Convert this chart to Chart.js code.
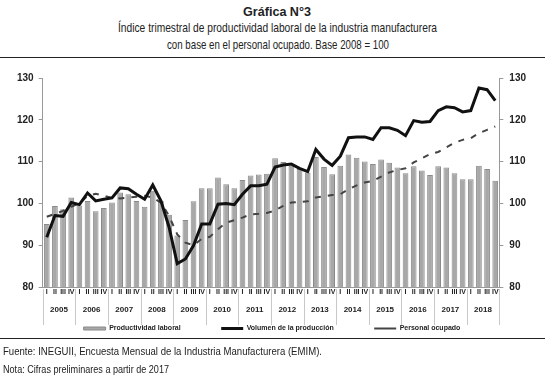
<!DOCTYPE html>
<html>
<head>
<meta charset="utf-8">
<script src="https://cdn.jsdelivr.net/npm/chart.js@4"></script>
<style>
  body { margin: 0; background: #fff; width: 555px; height: 379px; position: relative; overflow: hidden;
         font-family: 'Liberation Sans', sans-serif; color: #222; }
  .line { position: absolute; white-space: nowrap; transform-origin: 0 0; }
  .t { font-size: 13px; }
  .rule { position: absolute; left: 0; width: 545px; height: 0; border-top: 1.3px solid #222; }
  #wrap { position: absolute; top: 60px; left: 0; width: 555px; height: 282px; }
  .foot { font-size: 10.5px; }
</style>
</head>
<body>
<div class="line t" style="top:4px" data-x="243" data-w="68"><b>Gráfica N°3</b></div>
<div class="line t" style="top:20px" data-x="118" data-w="319">Índice trimestral de productividad laboral de la industria manufacturera</div>
<div class="line t" style="top:37px" data-x="167" data-w="222">con base en el personal ocupado. Base 2008 = 100</div>
<div class="rule" style="top:57px"></div>
<div id="wrap"><canvas id="chart"></canvas></div>
<div class="rule" style="top:338px"></div>
<div class="line foot" style="top:345px" data-x="3" data-w="319">Fuente: INEGUII, Encuesta Mensual de la Industria Manufacturera (EMIM).</div>
<div class="line foot" style="top:363px" data-x="3" data-w="166">Nota: Cifras preliminares a partir de 2017</div>
<script>
// Years and quarters on the x axis
const years = ['2005', '2006', '2007', '2008', '2009', '2010', '2011', '2012', '2013', '2014', '2015', '2016', '2017', '2018'];
const quarters = ['I', 'II', 'III', 'IV'];

// Productividad laboral (bars)
const productividad = [
    95.1, 99.4, 98.6, 101.4,
    99.5, 100.6, 98.1, 98.9,
    100.2, 102.6, 102.2, 100.6,
    99.2, 103.0, 100.6, 97.3,
    92.3, 96.0, 100.5, 103.6,
    103.6, 106.2, 104.6, 103.6,
    105.6, 106.7, 106.9, 107.1,
    110.8, 109.9, 109.0, 108.2,
    107.4, 111.1, 108.7, 107.0,
    109.0, 111.7, 110.9, 110.0,
    109.4, 110.5, 109.7, 108.6,
    107.2, 108.9, 107.9, 106.8,
    108.9, 108.6, 107.2, 105.8,
    105.8, 109.0, 108.2, 105.4
];

// Volumen de la producción (solid line)
const volumen = [
    91.9, 97.1, 96.9, 100.2,
    99.7, 102.5, 100.6, 101.0,
    101.3, 103.7, 103.5, 102.2,
    101.0, 104.4, 100.6, 94.3,
    85.6, 86.7, 89.9, 95.1,
    95.1, 99.8, 100.0, 99.7,
    102.2, 104.2, 104.2, 104.6,
    108.7, 109.2, 109.4, 108.4,
    107.6, 112.9, 110.6, 109.1,
    111.3, 115.7, 115.9, 115.9,
    115.3, 118.1, 118.1, 117.5,
    116.2, 119.8, 119.4, 119.6,
    122.2, 123.1, 122.9, 121.9,
    122.2, 127.6, 127.2, 124.6
];

// Personal ocupado (dashed line)
const personal = [
    96.8, 97.5, 98.2, 99.2,
    100.0, 101.8, 102.3, 101.8,
    101.3, 101.2, 101.4, 101.6,
    101.8, 101.4, 100.2, 97.0,
    92.6, 90.6, 90.0, 91.5,
    92.0, 93.8, 95.4, 96.0,
    96.6, 97.4, 97.5, 97.7,
    98.3, 99.4, 100.2, 100.3,
    100.5, 101.4, 101.7, 102.0,
    102.2, 103.4, 104.3, 105.0,
    105.4, 106.4, 107.4, 108.0,
    108.4, 109.8, 110.8, 111.8,
    112.3, 113.4, 114.5, 115.2,
    115.6, 116.8, 117.6, 118.4
];

const labels = [];
years.forEach(y => quarters.forEach(q => labels.push(q)));

// squeeze the html text lines to the narrow width of the original
document.querySelectorAll('.line').forEach(el => {
    const w = el.getBoundingClientRect().width;
    el.style.left = el.dataset.x + 'px';
    el.style.transform = 'scaleX(' + (el.dataset.w / w) + ')';
});

// Light separators between the years, below the axis
const yearLines = {
    id: 'yearLines',
    afterDraw(chart) {
        const x = chart.scales.x;
        const x2 = chart.scales.x2;
        const ctx = chart.ctx;
        const step = x.getPixelForValue(1) - x.getPixelForValue(0);
        ctx.save();
        ctx.strokeStyle = '#c8c8c8';
        ctx.lineWidth = 1;
        for (let i = 0; i <= years.length; i++) {
            const px = Math.round(x.getPixelForValue(i * 4) - step / 2) + 0.5;
            ctx.beginPath();
            ctx.moveTo(px, x.top + 2);
            ctx.lineTo(px, x2.bottom + 2);
            ctx.stroke();
        }
        ctx.restore();
    }
};

const tickFont = { family: 'Liberation Sans', size: 10, weight: 'bold' };
// extra room after the legend texts (the original spreads them wide)
const legendGap = ['\u2003\u2003\u2003\u2003\u2003\u2002', '\u2003\u2003\u2003\u2003\u2003\u2002', ''];
const legendStyle = ['rect', 'line', 'line'];

new Chart(document.getElementById('chart'), {
    data: {
        labels: labels,
        datasets: [
            {
                type: 'bar',
                label: 'Productividad laboral',
                data: productividad,
                backgroundColor: '#a8a8a8',
                borderColor: '#8a8a8a',
                borderWidth: 1,
                barPercentage: 0.7,
                categoryPercentage: 1,
                order: 3
            },
            {
                type: 'line',
                label: 'Volumen de la producción',
                data: volumen,
                borderColor: '#111',
                backgroundColor: '#111',
                borderWidth: 3,
                pointRadius: 0,
                tension: 0,
                order: 1
            },
            {
                type: 'line',
                label: 'Personal ocupado',
                data: personal,
                borderColor: '#444',
                backgroundColor: 'rgba(0,0,0,0)',
                borderWidth: 2,
                borderDash: [6, 7],
                pointRadius: 0,
                tension: 0,
                order: 2
            }
        ]
    },
    options: {
        responsive: true,
        maintainAspectRatio: false,
        animation: false,
        layout: { padding: { top: 18, left: 12, right: 23, bottom: 0 } },
        scales: {
            x: {
                grid: { display: false, drawTicks: false },
                border: { color: '#999' },
                ticks: {
                    autoSkip: false, maxRotation: 0, padding: 1,
                    color: '#222', font: { family: 'Liberation Sans', size: 7, weight: 'bold' }
                }
            },
            x2: {
                type: 'category',
                labels: years,
                position: 'bottom',
                offset: true,
                grid: { display: false, drawTicks: false },
                border: { display: false },
                ticks: {
                    maxRotation: 0, padding: 8,
                    color: '#222', font: { family: 'Liberation Sans', size: 8, weight: 'bold' }
                }
            },
            y: {
                position: 'left',
                min: 80, max: 130,
                grid: { drawOnChartArea: false, tickLength: 4, color: '#999' },
                border: { color: '#999' },
                ticks: { stepSize: 10, padding: 5, color: '#222', font: tickFont }
            },
            y1: {
                position: 'right',
                min: 80, max: 130,
                grid: { drawOnChartArea: false, tickLength: 4, color: '#999' },
                border: { color: '#999' },
                ticks: { stepSize: 10, padding: 6, color: '#222', font: tickFont }
            }
        },
        plugins: {
            legend: {
                position: 'bottom',
                labels: {
                    usePointStyle: true,
                    pointStyleWidth: 22,
                    boxWidth: 22,
                    boxHeight: 3,
                    padding: 2,
                    color: '#222',
                    font: { family: 'Liberation Sans', size: 7, weight: 'bold' },
                    generateLabels: chart => {
                        const items = Chart.defaults.plugins.legend.labels.generateLabels(chart);
                        items.sort((a, b) => a.datasetIndex - b.datasetIndex);
                        items.forEach((it, i) => {
                            it.text += legendGap[i];
                            it.pointStyle = legendStyle[i];
                        });
                        return items;
                    }
                }
            },
            tooltip: { enabled: false }
        }
    },
    plugins: [yearLines]
});
</script>
</body>
</html>
